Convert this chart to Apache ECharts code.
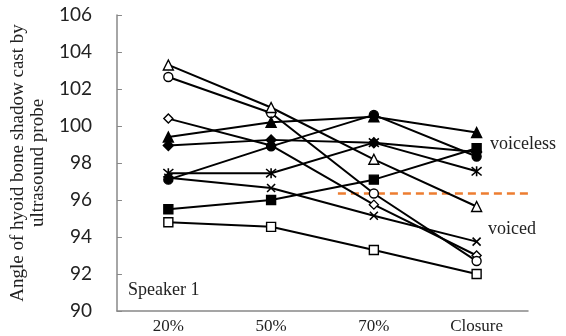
<!DOCTYPE html>
<html>
<head>
<meta charset="utf-8">
<script src="https://cdn.jsdelivr.net/npm/echarts@6/dist/echarts.min.js"></script>
<style>
  html, body { margin: 0; padding: 0; background: #fff; }
  #chart { width: 566px; height: 336px; }
</style>
</head>
<body>
<div id="chart"></div>
<script>
var categories = ['20%', '50%', '70%', 'Closure'];
var yTicks = [90, 106, 2];

// voiceless
var filledTriangle = [99.4, 100.2, 100.5, 99.65];
var filledDiamond = [98.95, 99.25, 99.1, 98.6];
var filledCircle = [97.1, 98.9, 100.6, 98.35];
var filledSquare = [95.5, 96.0, 97.1, 98.8];
var asterisk = [97.45, 97.45, 99.1, 97.55];
// voiced
var openTriangle = [103.3, 101.0, 98.2, 95.65];
var openCircle = [102.65, 100.7, 96.35, 92.7];
var openDiamond = [100.4, 98.95, 95.75, 93.0];
var cross = [97.2, 96.65, 95.15, 93.75];
var openSquare = [94.8, 94.55, 93.3, 92.0];

// boundary between the groups (x runs on a 0..4 band scale)
var boundaryX = [2.15, 4.13];
var boundaryY = 96.35;

var starPath = 'path://M0,0L10,10M10,0L0,10M5,-1L5,11';
var crossPath = 'path://M0,0L10,10M10,0L0,10';

function mk(data, symbol, filled, size) {
    var stroke = symbol.indexOf('path://') === 0;
    return {
        type: 'line',
        data: data,
        symbol: symbol,
        symbolSize: size,
        showAllSymbol: true,
        lineStyle: { color: '#000', width: 2 },
        itemStyle: stroke
            ? { color: 'none', borderColor: '#000', borderWidth: 1.6 }
            : { color: filled ? '#000' : '#fff', borderColor: '#000', borderWidth: 1.4 },
        emphasis: { disabled: true },
        z: filled ? 3 : 2
    };
}

var chart = echarts.init(document.getElementById('chart'));
var serif = '"Liberation Serif", "DejaVu Serif", serif';

chart.setOption({
    animation: false,
    grid: { left: 110, right: 38, top: 15, bottom: 25, containLabel: false },
    xAxis: [{
        type: 'category',
        data: categories,
        axisLine: { lineStyle: { color: '#888', width: 1.5 } },
        axisTick: { inside: true, length: 4, lineStyle: { color: '#888' } },
        axisLabel: { margin: 7, fontFamily: serif, fontSize: 17, color: '#222' }
    }, {
        type: 'value', min: 0, max: 4, show: false
    }],
    yAxis: {
        type: 'value',
        min: yTicks[0], max: yTicks[1], interval: yTicks[2],
        splitLine: { show: false },
        axisLine: { show: true, lineStyle: { color: '#888', width: 1.5 } },
        axisTick: { show: true, inside: true, length: 5, lineStyle: { color: '#888' } },
        axisLabel: { margin: 25, fontFamily: 'Lato', fontSize: 19, color: '#222' },
        name: 'Angle of hyoid bone shadow cast by\nultrasound probe',
        nameLocation: 'middle',
        nameGap: 53,
        nameTextStyle: { fontFamily: serif, fontSize: 19, color: '#222', lineHeight: 20 }
    },
    series: [
        mk(openSquare, 'rect', false, 9),
        mk(cross, crossPath, false, 8),
        mk(openDiamond, 'diamond', false, 9),
        mk(openCircle, 'circle', false, 9),
        mk(openTriangle, 'triangle', false, 10),
        mk(asterisk, starPath, true, 10),
        mk(filledSquare, 'rect', true, 9),
        mk(filledCircle, 'circle', true, 9),
        mk(filledDiamond, 'diamond', true, 10),
        mk(filledTriangle, 'triangle', true, 10),
        {
            type: 'line',
            xAxisIndex: 1,
            data: [[boundaryX[0], boundaryY], [boundaryX[1], boundaryY]],
            symbol: 'none',
            clip: false,
            lineStyle: { color: '#ED7D31', width: 2.5, type: [8, 5] },
            z: 1
        }
    ],
    graphic: [
        { type: 'text', x: 490, y: 144, style: { text: 'voiceless', font: '18px ' + serif, fill: '#222', verticalAlign: 'middle' } },
        { type: 'text', x: 488, y: 229, style: { text: 'voiced', font: '18px ' + serif, fill: '#222', verticalAlign: 'middle' } },
        { type: 'text', x: 128, y: 290, style: { text: 'Speaker 1', font: '18px ' + serif, fill: '#222', verticalAlign: 'middle' } }
    ]
});
</script>
</body>
</html>
